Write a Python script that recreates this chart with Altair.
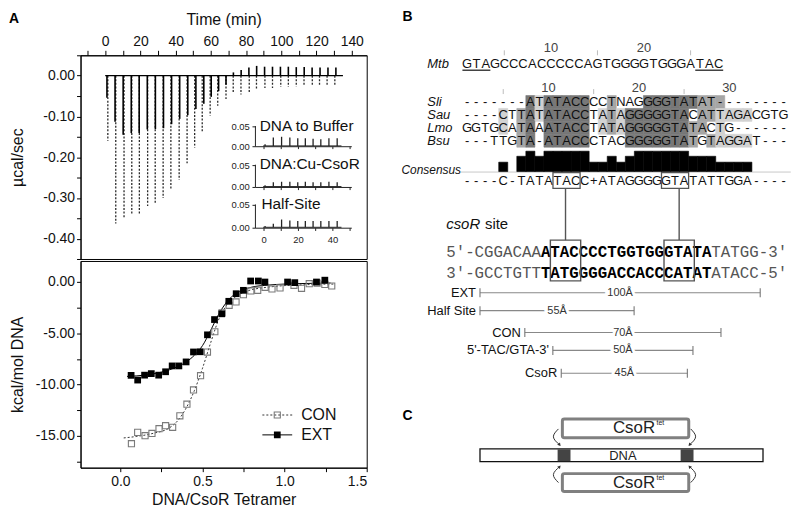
import altair as alt
import pandas as pd

FONT = "Liberation Sans"
MONO = "Liberation Mono"
INK = "#111111"

# ======================= DATA =======================
# ---- Panel A, top: raw injection heats (µcal/sec), one spike per injection ----
ext_inj_time = [1.0, 5.6, 10.2, 14.8, 19.3, 23.9, 28.5, 33.1, 37.7, 42.3, 46.9, 51.5, 56.0, 60.2, 64.4,
                68.6, 72.8, 77.2, 81.6, 86.0, 90.5, 95.0, 99.5, 104.0, 108.5, 113.0, 117.5, 122.0, 126.5, 131.0]
ext_inj_peak = [-0.054, -0.113, -0.145, -0.141, -0.141, -0.132, -0.131, -0.129, -0.119, -0.106, -0.097, -0.082,
                -0.069, -0.052, -0.038, -0.022, 0.008, 0.014, 0.020, 0.024, 0.022, 0.022, 0.022, 0.022, 0.021,
                0.021, 0.020, 0.020, 0.020, 0.020]
con_inj_time = [1.5, 6.0, 10.7, 15.1, 19.4, 24.1, 28.4, 32.9, 37.3, 42.0, 46.5, 50.8, 55.1, 59.6, 63.9,
                68.6, 72.7, 77.1, 81.8, 85.9, 90.7, 95.0, 99.7, 104.0, 108.5, 112.9, 117.6, 121.7, 126.0, 130.4]
con_inj_peak = [-0.160, -0.363, -0.348, -0.340, -0.340, -0.320, -0.316, -0.300, -0.280, -0.256, -0.215, -0.177,
                -0.139, -0.098, -0.074, -0.058, -0.042, -0.046, -0.042, -0.035, -0.030, -0.030, -0.028, -0.028,
                -0.027, -0.026, -0.026, -0.025, -0.025, -0.025]
run_span = [0.0, 135.0]

# ---- insets (control titrations) ----
inset_titles = ["DNA to Buffer", "DNA:Cu-CsoR", "Half-Site"]
inset_inj_time = [0.6, 5.4, 10.2, 15.0, 19.6, 24.0, 28.5, 33.0, 37.7, 42.5]
inset_peaks = [
    [0.006, 0.023, 0.025, 0.023, 0.021, 0.021, 0.020, 0.019, 0.021, 0.021],
    [0.005, 0.012, 0.013, 0.013, 0.012, 0.013, 0.012, 0.012, 0.013, 0.012],
    [0.005, 0.010, 0.019, 0.017, 0.016, 0.016, 0.016, 0.016, 0.016, 0.016],
]
inset_baseline = 0.002
inset_span = [-0.5, 45.0]
inset_y_ticks = [0.0, 0.05]
inset_y_labels = ["0.00", "0.05"]
inset_x_ticks = [0, 10, 20, 30, 40, 50]
inset_x_label_ticks = [0, 20, 40]

# ---- Panel A, bottom: integrated heats ----
ext_ratio = [0.065, 0.105, 0.147, 0.188, 0.233, 0.275, 0.315, 0.356, 0.400, 0.445, 0.486, 0.530, 0.573,
             0.617, 0.660, 0.705, 0.749, 0.793, 0.840, 0.880, 1.018, 1.062, 1.194, 1.245]
ext_heat = [-9.10, -9.56, -9.08, -8.93, -9.08, -8.75, -8.18, -8.18, -7.79, -6.82, -6.80, -5.15, -3.66,
            -3.10, -1.88, -1.14, -0.81, 0.10, 0.10, 0.00, 0.00, -0.06, 0.00, 0.18]
con_ratio = [0.067, 0.105, 0.150, 0.192, 0.235, 0.275, 0.318, 0.362, 0.405, 0.445, 0.488, 0.530, 0.575,
             0.619, 0.662, 0.704, 0.749, 0.794, 0.836, 0.881, 0.923, 0.972, 1.057, 1.103, 1.150, 1.198,
             1.245, 1.287]
con_heat = [-15.76, -14.66, -14.98, -14.76, -14.30, -14.01, -14.17, -13.04, -11.91, -10.52, -9.13, -6.83,
            -4.85, -3.01, -2.27, -1.94, -1.23, -0.87, -0.81, -0.52, -0.68, -0.58, -0.32, -0.61, -0.16,
            -0.10, -0.23, -0.39]
ext_fit_x = [0.04, 0.10, 0.20, 0.30, 0.40, 0.45, 0.50, 0.55, 0.60, 0.65, 0.70, 0.75, 0.80, 0.90, 1.00, 1.10, 1.20, 1.28]
ext_fit_y = [-9.2, -9.15, -8.95, -8.55, -7.8, -7.15, -6.2, -4.7, -3.1, -1.9, -1.15, -0.75, -0.5, -0.3, -0.2, -0.15, -0.12, -0.1]
con_fit_x = [0.02, 0.10, 0.20, 0.30, 0.35, 0.40, 0.45, 0.50, 0.55, 0.60, 0.65, 0.70, 0.75, 0.80, 0.90, 1.00, 1.10, 1.20, 1.30]
con_fit_y = [-15.2, -15.05, -14.75, -14.2, -13.5, -12.3, -10.6, -8.4, -5.9, -3.6, -2.2, -1.45, -1.0, -0.75, -0.5, -0.35, -0.28, -0.22, -0.2]

# ---- axis ticks ----
time_ticks = [-10, 0, 10, 20, 30, 40, 50, 60, 70, 80, 90, 100, 110, 120, 130, 140]
power_ticks = [-0.45, -0.40, -0.35, -0.30, -0.25, -0.20, -0.15, -0.10, -0.05, 0.0, 0.05]
ratio_ticks = [0.0, 0.25, 0.5, 0.75, 1.0, 1.25, 1.5]
heat_ticks = [-17.5, -15.0, -12.5, -10.0, -7.5, -5.0, -2.5, 0.0]

# ---- Panel B: alignment ----
mtb_seq = "GTAGCCCACCCCCAGTGGGGTGGGATAC"
mtb_underlined = [(1, 3), (26, 28)]
mtb_ruler = [10, 20]
align_ruler = [10, 20, 30]
ruler_minor = [5, 15, 25]
align_names = ["Sli", "Sau", "Lmo", "Bsu"]
align_seqs = [
    "-------ATATACCCCTNAGGGGTATAT--------",
    "----CTTATATACCTATAGGGGGTACATTAGACGTG",
    "GGTGCATAAATACCTATAGGGGGTATACTG------",
    "---TTGTA-ATACCCTACGGGGGTATGTAGGAT---",
]
align_shade = [
    "000000031333330020003333332220000000",
    "000010231333330121333333302211110000",
    "000010230333330121333333322010000000",
    "000000230333330000333333320211110000",
]
consensus_seq = "----C-TATATACC+ATAGGGGGTATATTGGA----"
consensus_score = [0, 0, 0, 0, 0.46, 0, 0.75, 1, 0.75, 1, 1, 1, 1, 1, 0.46, 0.46, 0.75, 0.46, 0.75,
                   1, 1, 1, 1, 1, 1, 0.75, 0.75, 0.75, 0.46, 0.46, 0.46, 0.46, 0, 0, 0, 0]
consensus_boxes = [(11, 13), (23, 25)]

# ---- Panel B: csoR operator ----
strand_top = "5′-CGGACAAATACCCCTGGTGGGTATATATGG-3′"
strand_bot = "3′-GCCTGTTTATGGGGACCACCCATATATACC-5′"
site_core = (10, 27)
site_boxes = [(11, 13), (23, 25)]

# ---- Panel B: distances (Å) ----
dist_names = ["EXT", "Half Site", "CON", "5'-TAC/GTA-3'", "CsoR"]
dist_len = [100, 55, 70, 50, 45]
dist_start = [0, 0, 16, 26, 29]

# ======================= LAYOUT =======================
W_A, H_TOP, H_BOT = 288, 205, 208
R_W, R_TOP, R_BOT = 390, 44, 492   # right column layout units (view starts at R_TOP)
INSET_X_RANGE = [176, 273]
INSET_Y_RANGES = [[92, 72], [133, 111], [174, 151]]
inset_x_domain = [-5, 51]
inset_title_x = [-2.5, -2.5, -1.5]

Y_MTB_RULER, Y_MTB, Y_UNDER, Y_RULER = 37, 53, 59, 77
ROW_Y = [91, 104, 117, 130]
Y_CONS_BASE, Y_CONS_SEQ, CONS_MAX = 161, 171, 20.5
Y_CONS_BOX = (162, 178)
Y_SITE_LABEL, Y_STRANDS, Y_SITE_BOX = 214, (242, 263), (230, 271)
Y_DIST = [283, 301, 323, 341, 364]
COL1_PX, COL_W, MTB_STRETCH = 68, 9.1, 1.03
STR_X0, STR_W = 47, 9.53
D_X0, D_PX = 81, 2.82

# ======================= PANEL A TOP =======================
XT = alt.Scale(domain=[-14, 148.5], nice=False, zero=False)
YT = alt.Scale(domain=[-0.45, 0.05], nice=False, zero=False)
ax_time = alt.Axis(orient="top", title="Time (min)", values=time_ticks,
                   labelExpr="datum.value >= 0 && datum.value % 20 == 0 ? datum.label : ''",
                   tickSize=5, labelPadding=2, titlePadding=7)
ax_power = alt.Axis(title="µcal/sec", values=power_ticks,
                    labelExpr="abs(round(datum.value * 100)) % 10 == 0 ? (datum.value < -0.001 ? '-' : '') + format(abs(datum.value), '.2f') : ''",
                    tickSize=4, labelPadding=2, titlePadding=5, minExtent=50, maxExtent=50)


def xt(f):
    return alt.X(f, scale=XT, axis=ax_time)


def yt(f):
    return alt.Y(f, scale=YT, axis=ax_power)


spk = pd.DataFrame({
    "t": ext_inj_time + con_inj_time,
    "peak": ext_inj_peak + con_inj_peak,
    "run": ["EXT"] * len(ext_inj_time) + ["CON"] * len(con_inj_time),
})
spk["zero"] = 0.0

con_spikes = alt.Chart(spk).transform_filter(alt.datum.run == "CON").mark_rule(
    color="#2a2a2a", strokeWidth=1.3, strokeDash=[2, 1.6]).encode(x=xt("t:Q"), y=yt("zero:Q"), y2="peak:Q")
run_df = pd.DataFrame({"t0": [run_span[0]], "t1": [run_span[1]], "level": [0.0]})
baseline = alt.Chart(run_df).mark_rule(color="black", strokeWidth=1.2).encode(
    x=xt("t0:Q"), x2="t1:Q", y=yt("level:Q"))
ext_spikes = alt.Chart(spk).transform_filter(alt.datum.run == "EXT").mark_rule(
    color="black", strokeWidth=1.6).encode(x=xt("t:Q"), y=yt("zero:Q"), y2="peak:Q")
lab_A = alt.Chart(pd.DataFrame({"lab": ["A"]})).mark_text(
    fontSize=14, fontWeight="bold", align="left", baseline="top", color="black", font=FONT
).encode(x=alt.value(-72), y=alt.value(-44), text="lab:N")

main_top = alt.layer(con_spikes, baseline, ext_spikes, lab_A)


def inset_panel(k):
    xs = alt.Scale(domain=inset_x_domain, range=INSET_X_RANGE, nice=False, zero=False)
    ys = alt.Scale(domain=[0, 0.05], range=INSET_Y_RANGES[k], nice=False, zero=False)

    def X(f):
        return alt.X(f, scale=xs, axis=None)

    def Y(f):
        return alt.Y(f, scale=ys, axis=None)

    peaks = inset_peaks[k]
    sp = pd.DataFrame({"t": inset_inj_time, "h": peaks, "b": [inset_baseline] * len(peaks)})
    tr = pd.DataFrame({"t0": [inset_span[0]], "t1": [inset_span[1]], "b": [inset_baseline]})
    fr = pd.DataFrame({"x0": [inset_x_domain[0], inset_x_domain[0]],
                       "x1": [inset_x_domain[0], inset_x_domain[1]],
                       "y0": [0.0, 0.0], "y1": [0.052, 0.0]})
    ytk = pd.DataFrame({"v": inset_y_ticks, "lab": inset_y_labels,
                        "xa": [-6.7] * 2, "xb": [-5.0] * 2, "xl": [-8.3] * 2})
    xtk = pd.DataFrame({"t": inset_x_ticks, "y0": [0.0] * len(inset_x_ticks),
                        "y1": [-0.006] * len(inset_x_ticks)})
    tt = pd.DataFrame({"x": [inset_title_x[k]], "y": [0.053], "lab": [inset_titles[k]]})
    layers = [
        alt.Chart(tr).mark_rule(color="#222", strokeWidth=1).encode(x=X("t0:Q"), x2="t1:Q", y=Y("b:Q")),
        alt.Chart(sp).mark_rule(color="#222", strokeWidth=1.3).encode(x=X("t:Q"), y=Y("b:Q"), y2="h:Q"),
        alt.Chart(fr).mark_rule(color="#222", strokeWidth=1).encode(
            x=X("x0:Q"), x2="x1:Q", y=Y("y0:Q"), y2="y1:Q"),
        alt.Chart(ytk).mark_rule(color="#222").encode(x=X("xa:Q"), x2="xb:Q", y=Y("v:Q")),
        alt.Chart(ytk).mark_text(align="right", baseline="middle", fontSize=9.5, color="#222", font=FONT).encode(
            x=X("xl:Q"), y=Y("v:Q"), text="lab:N"),
        alt.Chart(xtk).mark_rule(color="#222").encode(x=X("t:Q"), y=Y("y0:Q"), y2="y1:Q"),
        alt.Chart(tt).mark_text(align="left", baseline="middle", fontSize=15.5, color=INK, font=FONT).encode(
            x=X("x:Q"), y=Y("y:Q"), text="lab:N"),
    ]
    if k == len(inset_titles) - 1:
        xl = pd.DataFrame({"t": inset_x_label_ticks, "y": [-0.026] * len(inset_x_label_ticks),
                           "lab": [str(v) for v in inset_x_label_ticks]})
        layers.append(alt.Chart(xl).mark_text(align="center", baseline="middle", fontSize=9.5,
                                              color="#222", font=FONT).encode(
            x=X("t:Q"), y=Y("y:Q"), text="lab:N"))
    return alt.layer(*layers)


top = alt.layer(main_top, *[inset_panel(k) for k in range(len(inset_titles))]).resolve_scale(
    x="independent", y="independent").properties(
    width=W_A, height=H_TOP, view=alt.ViewBackground(stroke="black", strokeWidth=1))

# ======================= PANEL A BOTTOM =======================
XB = alt.Scale(domain=[-0.243, 1.5], nice=False, zero=False)
YB = alt.Scale(domain=[-18.1, 2.05], nice=False, zero=False)
ax_ratio = alt.Axis(title="DNA/CsoR Tetramer", values=ratio_ticks,
                    labelExpr="round(datum.value * 100) % 50 == 0 ? format(datum.value, '.1f') : ''",
                    tickSize=4, labelPadding=3, titlePadding=3)
ax_heat = alt.Axis(title="kcal/mol DNA", values=heat_ticks,
                   labelExpr="abs(round(datum.value * 10)) % 50 == 0 ? (datum.value < -0.001 ? '-' : '') + format(abs(datum.value), '.2f') : ''",
                   tickSize=4, labelPadding=2, titlePadding=5, minExtent=50, maxExtent=50)


def xb(f):
    return alt.X(f, scale=XB, axis=ax_ratio)


def yb(f):
    return alt.Y(f, scale=YB, axis=ax_heat)


pts = pd.DataFrame({"r": ext_ratio + con_ratio, "h": ext_heat + con_heat,
                    "s": ["EXT"] * len(ext_ratio) + ["CON"] * len(con_ratio)})
fits = pd.DataFrame({"r": ext_fit_x + con_fit_x, "h": ext_fit_y + con_fit_y,
                     "s": ["EXT"] * len(ext_fit_x) + ["CON"] * len(con_fit_x)})

con_fit = alt.Chart(fits).transform_filter(alt.datum.s == "CON").mark_line(
    color="#333", strokeWidth=1, strokeDash=[2, 2], interpolate="monotone").encode(x=xb("r:Q"), y=yb("h:Q"))
ext_fit = alt.Chart(fits).transform_filter(alt.datum.s == "EXT").mark_line(
    color="black", strokeWidth=1, interpolate="monotone").encode(x=xb("r:Q"), y=yb("h:Q"))
con_pts = alt.Chart(pts).transform_filter(alt.datum.s == "CON").mark_square(
    filled=False, color="#7a7a7a", size=38, strokeWidth=1.1, opacity=1).encode(x=xb("r:Q"), y=yb("h:Q"))
ext_pts = alt.Chart(pts).transform_filter(alt.datum.s == "EXT").mark_square(
    filled=True, color="black", size=46, opacity=1).encode(x=xb("r:Q"), y=yb("h:Q"))

leg = pd.DataFrame({"lab": ["CON"]})
leg2 = pd.DataFrame({"lab": ["EXT"]})
legend_layers = [
    alt.Chart(leg).mark_rule(color="#333", strokeWidth=1, strokeDash=[2, 2]).encode(
        x=alt.value(183), x2=alt.value(213), y=alt.value(155)),
    alt.Chart(leg).mark_square(filled=False, color="#7a7a7a", size=38, strokeWidth=1.1, opacity=1).encode(
        x=alt.value(198), y=alt.value(155)),
    alt.Chart(leg).mark_text(align="left", baseline="middle", fontSize=16, color=INK, font=FONT).encode(
        x=alt.value(222), y=alt.value(155), text="lab:N"),
    alt.Chart(leg2).mark_rule(color="black", strokeWidth=1).encode(
        x=alt.value(183), x2=alt.value(213), y=alt.value(175)),
    alt.Chart(leg2).mark_square(filled=True, color="black", size=46, opacity=1).encode(
        x=alt.value(198), y=alt.value(175)),
    alt.Chart(leg2).mark_text(align="left", baseline="middle", fontSize=16, color=INK, font=FONT).encode(
        x=alt.value(222), y=alt.value(175), text="lab:N"),
]

bottom = alt.layer(con_fit, ext_fit, con_pts, ext_pts, *legend_layers).properties(
    width=W_A, height=H_BOT, view=alt.ViewBackground(stroke="black", strokeWidth=1))

left = alt.vconcat(top, bottom, spacing=0)

# ======================= PANEL B / C =======================
YR = alt.Scale(domain=[R_TOP, R_BOT], reverse=True, nice=False, zero=False)


def yr(f):
    return alt.Y(f, scale=YR, axis=None)


XA = alt.Scale(domain=[1 - COL1_PX / COL_W, 1 + (R_W - COL1_PX) / COL_W], nice=False, zero=False)


def xa(f):
    return alt.X(f, scale=XA, axis=None)


def mtb_col(c):
    return 1 + (c - 1) * MTB_STRETCH


# letters
rows = []
for i, ch in enumerate(mtb_seq):
    rows.append({"x": mtb_col(i + 1), "y": Y_MTB, "ch": ch})
for seq, yy in zip(align_seqs, ROW_Y):
    for i, ch in enumerate(seq):
        rows.append({"x": i + 1, "y": yy, "ch": ch})
for i, ch in enumerate(consensus_seq):
    rows.append({"x": i + 1, "y": Y_CONS_SEQ, "ch": ch})
letters = pd.DataFrame(rows)

shade_rows = []
for sh, yy in zip(align_shade, ROW_Y):
    for i, s in enumerate(sh):
        if s != "0":
            shade_rows.append({"x0": i + 0.5, "x1": i + 1.5, "y0": yy - 6.5, "y1": yy + 6.5, "s": s})
shade = pd.DataFrame(shade_rows)
shade_scale = alt.Scale(domain=["1", "2", "3"], range=["#d2d2d2", "#a6a6a6", "#787878"])

bars = pd.DataFrame({"c": list(range(1, len(consensus_score) + 1)), "score": consensus_score})
bars = bars[bars.score > 0].copy()
bars["x0"] = bars.c - 0.5
bars["x1"] = bars.c + 0.5
bars["y0"] = Y_CONS_BASE
bars["y1"] = Y_CONS_BASE - bars.score * CONS_MAX

ruler_num = pd.DataFrame(
    [{"x": mtb_col(c), "y": Y_MTB_RULER, "lab": str(c)} for c in mtb_ruler]
    + [{"x": c, "y": Y_RULER, "lab": str(c)} for c in align_ruler])
ruler_tick = pd.DataFrame(
    [{"x": mtb_col(c), "y0": Y_MTB_RULER + 2, "y1": Y_MTB_RULER + 7} for c in ruler_minor]
    + [{"x": c, "y0": Y_RULER + 1, "y1": Y_RULER + 6} for c in ruler_minor])
under = pd.DataFrame([{"x0": mtb_col(a) - 0.5 * MTB_STRETCH, "x1": mtb_col(b) + 0.5 * MTB_STRETCH, "y": Y_UNDER}
                      for a, b in mtb_underlined])
row_labels = pd.DataFrame({"lab": ["Mtb"] + align_names, "y": [Y_MTB] + ROW_Y})
cons_line = pd.DataFrame({"x0": [0.3], "x1": [36.8], "y": [Y_CONS_BASE + 0.5]})
cbox = pd.DataFrame([{"x0": a - 0.5, "x1": b + 0.5, "y0": Y_CONS_BOX[0], "y1": Y_CONS_BOX[1]}
                     for a, b in consensus_boxes])

align_group = alt.layer(
    alt.Chart(shade).mark_rect(strokeWidth=0.6).encode(
        x=xa("x0:Q"), x2="x1:Q", y=yr("y0:Q"), y2="y1:Q",
        color=alt.Color("s:N", scale=shade_scale, legend=None),
        stroke=alt.Stroke("s:N", scale=shade_scale, legend=None)),
    alt.Chart(cons_line).mark_rule(color="#c8c8c8", strokeWidth=1).encode(x=xa("x0:Q"), x2="x1:Q", y=yr("y:Q")),
    alt.Chart(bars).mark_rect(color="black", strokeWidth=0.6, stroke="black").encode(
        x=xa("x0:Q"), x2="x1:Q", y=yr("y0:Q"), y2="y1:Q"),
    alt.Chart(letters).mark_text(font=FONT, fontSize=13, color=INK, align="center", baseline="middle").encode(
        x=xa("x:Q"), y=yr("y:Q"), text="ch:N"),
    alt.Chart(ruler_num).mark_text(font=FONT, fontSize=13, color="#444", align="center", baseline="middle").encode(
        x=xa("x:Q"), y=yr("y:Q"), text="lab:N"),
    alt.Chart(ruler_tick).mark_rule(color="#bbb", strokeWidth=1).encode(x=xa("x:Q"), y=yr("y0:Q"), y2="y1:Q"),
    alt.Chart(under).mark_rule(color="#222", strokeWidth=1.3).encode(x=xa("x0:Q"), x2="x1:Q", y=yr("y:Q")),
    alt.Chart(row_labels).mark_text(font=FONT, fontSize=13, fontStyle="italic", color=INK, align="left",
                                    baseline="middle").encode(x=alt.value(28), y=yr("y:Q"), text="lab:N"),
    alt.Chart(pd.DataFrame({"lab": ["Consensus"], "y": [Y_CONS_BASE - 1.5]})).mark_text(
        font=FONT, fontSize=12, fontStyle="italic", color=INK, align="left", baseline="middle").encode(
        x=alt.value(2), y=yr("y:Q"), text="lab:N"),
    alt.Chart(cbox).mark_rect(fillOpacity=0, stroke="#555", strokeWidth=1.3).encode(
        x=xa("x0:Q"), x2="x1:Q", y=yr("y0:Q"), y2="y1:Q"),
    alt.Chart(pd.DataFrame({"lab": ["B"], "y": [-2]})).mark_text(
        font=FONT, fontSize=14, fontWeight="bold", color="black", align="left", baseline="top").encode(
        x=alt.value(3), y=yr("y:Q"), text="lab:N"),
)

# ---- strands ----
XS = alt.Scale(domain=[-0.5 - STR_X0 / STR_W, -0.5 + (R_W - STR_X0) / STR_W], nice=False, zero=False)


def xs(f):
    return alt.X(f, scale=XS, axis=None)


srows = []
for strand, yy in zip([strand_top, strand_bot], Y_STRANDS):
    for j, ch in enumerate(strand):
        srows.append({"j": j, "y": yy, "ch": ch, "bold": int(site_core[0] <= j <= site_core[1])})
strands = pd.DataFrame(srows)
sbox = pd.DataFrame([{"x0": a - 0.5, "x1": b + 0.7, "y0": Y_SITE_BOX[0], "y1": Y_SITE_BOX[1]}
                     for a, b in site_boxes])
conn = pd.DataFrame([{"x": (a + b + 0.2) / 2, "y0": Y_CONS_BOX[1], "y1": Y_SITE_BOX[0]} for a, b in site_boxes])
site_lab = pd.DataFrame({"y": [Y_SITE_LABEL], "a": ["csoR"], "b": ["site"]})

strand_group = alt.layer(
    alt.Chart(conn).mark_rule(color="#555", strokeWidth=1.4).encode(x=xs("x:Q"), y=yr("y0:Q"), y2="y1:Q"),
    alt.Chart(strands).transform_filter(alt.datum.bold == 0).mark_text(
        font=MONO, fontSize=15.9, color="#555", align="center", baseline="middle").encode(
        x=xs("j:Q"), y=yr("y:Q"), text="ch:N"),
    alt.Chart(strands).transform_filter(alt.datum.bold == 1).mark_text(
        font=MONO, fontSize=15.9, fontWeight="bold", color="black", align="center", baseline="middle").encode(
        x=xs("j:Q"), y=yr("y:Q"), text="ch:N"),
    alt.Chart(sbox).mark_rect(fillOpacity=0, stroke="#555", strokeWidth=1.4).encode(
        x=xs("x0:Q"), x2="x1:Q", y=yr("y0:Q"), y2="y1:Q"),
    alt.Chart(site_lab).mark_text(font=FONT, fontSize=15, fontStyle="italic", color=INK, align="left",
                                  baseline="middle").encode(x=alt.value(47), y=yr("y:Q"), text="a:N"),
    alt.Chart(site_lab).mark_text(font=FONT, fontSize=15, color=INK, align="left",
                                  baseline="middle").encode(x=alt.value(86), y=yr("y:Q"), text="b:N"),
)

# ---- distances + panel C (Å scale) ----
XD = alt.Scale(domain=[-D_X0 / D_PX, (R_W - D_X0) / D_PX], nice=False, zero=False)


def xd(f):
    return alt.X(f, scale=XD, axis=None)


dist = pd.DataFrame({"name": dist_names, "start": dist_start, "length": dist_len, "y": Y_DIST})
dist["end"] = dist.start + dist.length
dist["mid"] = dist.start + dist.length / 2
dist["tag"] = [f"{v}Å" for v in dist_len]
dist["ya"] = dist.y - 4.5
dist["yb"] = dist.y + 4.5

# panel C schematic (Å units)
dna = pd.DataFrame({"x0": [0.0], "x1": [101.0], "y0": [440.0], "y1": [453.0]})
sites = pd.DataFrame({"x0": [27.7, 71.6], "x1": [32.3, 76.2], "y0": [440.5, 440.5], "y1": [452.5, 452.5]})
csor_boxes = pd.DataFrame({"x0": [29.4, 29.4], "x1": [74.5, 74.5], "y0": [410.0, 465.0], "y1": [429.0, 483.0],
                           "ty": [419.5, 474.0]})
arcs = pd.DataFrame({
    "id": ["tl"] * 3 + ["tr"] * 3 + ["bl"] * 3 + ["br"] * 3,
    "k": [0, 1, 2] * 4,
    "x": [28.0, 26.2, 28.4, 75.2, 76.95, 74.8, 28.4, 26.2, 28.0, 74.8, 76.95, 75.2],
    "y": [420, 428, 436, 420, 428, 436, 458, 466, 474, 458, 466, 474],
})
heads = pd.DataFrame({"x": [28.4, 74.8, 28.4, 74.8], "y": [436, 436, 458, 458], "ang": [140, 220, 40, 320]})

dist_group = alt.layer(
    alt.Chart(dist).mark_rule(color="#888", strokeWidth=1.1).encode(x=xd("start:Q"), x2="end:Q", y=yr("y:Q")),
    alt.Chart(dist).mark_rule(color="#777", strokeWidth=1.1).encode(x=xd("start:Q"), y=yr("ya:Q"), y2="yb:Q"),
    alt.Chart(dist).mark_rule(color="#777", strokeWidth=1.1).encode(x=xd("end:Q"), y=yr("ya:Q"), y2="yb:Q"),
    alt.Chart(dist).mark_text(font=FONT, fontSize=13, color=INK, align="right", baseline="middle", dx=-4).encode(
        x=xd("start:Q"), y=yr("y:Q"), text="name:N"),
    alt.Chart(dist).mark_text(font=FONT, fontSize=11, color="white", stroke="white", strokeWidth=6,
                              align="center", baseline="middle").encode(x=xd("mid:Q"), y=yr("y:Q"), text="tag:N"),
    alt.Chart(dist).mark_text(font=FONT, fontSize=11, color="#333", align="center", baseline="middle").encode(
        x=xd("mid:Q"), y=yr("y:Q"), text="tag:N"),
    # panel C
    alt.Chart(pd.DataFrame({"lab": ["C"], "y": [400]})).mark_text(
        font=FONT, fontSize=14, fontWeight="bold", color="black", align="left", baseline="top").encode(
        x=alt.value(3), y=yr("y:Q"), text="lab:N"),
    alt.Chart(dna).mark_rect(color="white", stroke="#111", strokeWidth=1.3).encode(
        x=xd("x0:Q"), x2="x1:Q", y=yr("y0:Q"), y2="y1:Q"),
    alt.Chart(sites).mark_rect(color="#444").encode(x=xd("x0:Q"), x2="x1:Q", y=yr("y0:Q"), y2="y1:Q"),
    alt.Chart(pd.DataFrame({"lab": ["DNA"], "x": [51.0], "y": [447.0]})).mark_text(
        font=FONT, fontSize=13, color="#222", align="center", baseline="middle").encode(
        x=xd("x:Q"), y=yr("y:Q"), text="lab:N"),
    alt.Chart(csor_boxes).mark_rect(color="white", stroke="#808080", strokeWidth=3, cornerRadius=2).encode(
        x=xd("x0:Q"), x2="x1:Q", y=yr("y0:Q"), y2="y1:Q"),
    alt.Chart(csor_boxes).transform_calculate(lab="'CsoR'", xx="62.5").mark_text(
        font=FONT, fontSize=17, color="#222", align="right", baseline="middle").encode(
        x=xd("xx:Q"), y=yr("ty:Q"), text="lab:N"),
    alt.Chart(csor_boxes).transform_calculate(lab="'tet'", xx="63.0").mark_text(
        font=FONT, fontSize=7, color="#222", align="left", baseline="middle", dy=-5).encode(
        x=xd("xx:Q"), y=yr("ty:Q"), text="lab:N"),
    alt.Chart(arcs).mark_line(color="#333", strokeWidth=1, interpolate="natural").encode(
        x=xd("x:Q"), y=yr("y:Q"), detail="id:N", order="k:Q"),
    alt.Chart(heads).mark_point(shape="triangle-up", filled=True, size=14, color="#333", opacity=1).encode(
        x=xd("x:Q"), y=yr("y:Q"), angle=alt.Angle("ang:Q", scale=None)),
)

right = alt.layer(align_group, strand_group, dist_group).resolve_scale(x="independent").properties(
    width=R_W, height=R_BOT - R_TOP)

chart = alt.hconcat(left, right, spacing=32).properties(padding=0).configure_view(
    strokeWidth=0).configure_axis(
    labelFont=FONT, titleFont=FONT, labelFontSize=14, titleFontSize=16, titleFontWeight="normal",
    labelColor=INK, titleColor=INK, domainColor="black", tickColor="black", grid=False
).configure_text(font=FONT)

chart.save("out.html", embed_options={"renderer": "svg", "actions": False})
